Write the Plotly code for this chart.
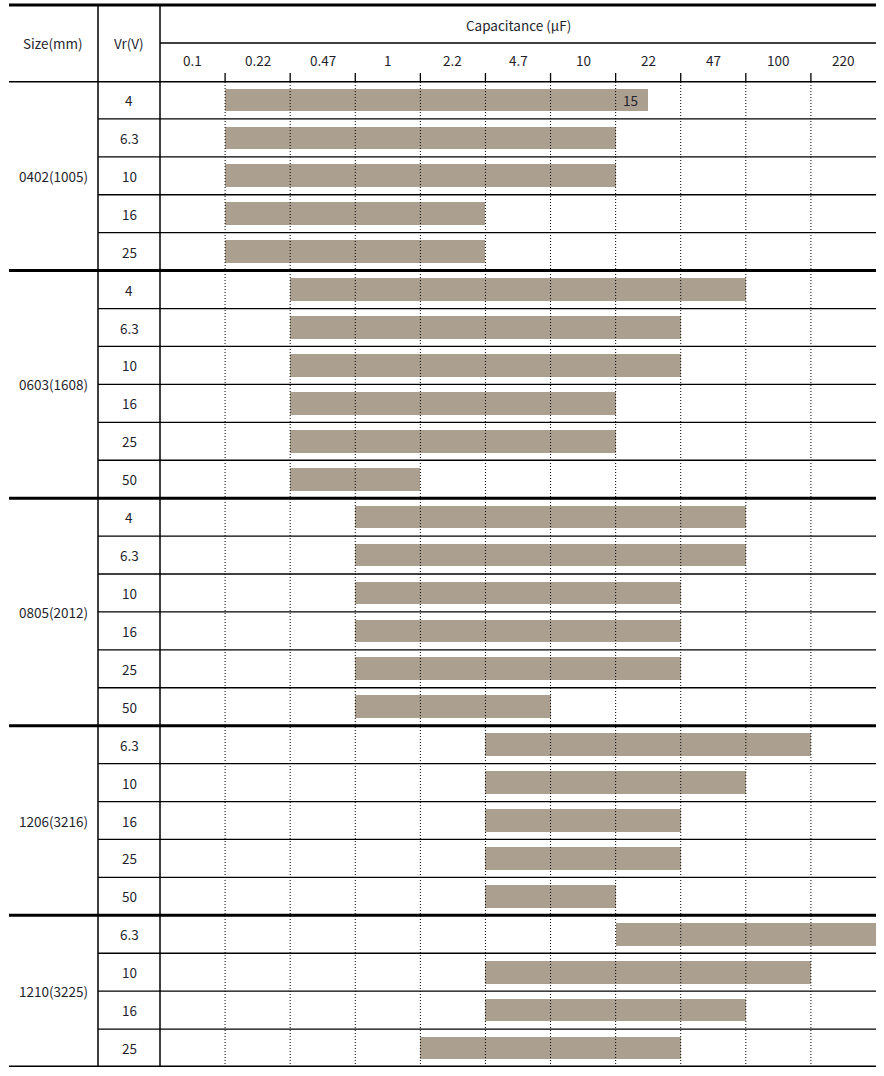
import plotly.graph_objects as go

# ---------------- data ----------------
cap_columns = ["0.1", "0.22", "0.47", "1", "2.2", "4.7", "10", "22", "47", "100", "220"]
cap_values = [0.1, 0.22, 0.47, 1, 2.2, 4.7, 10, 22, 47, 100, 220]

sizes = ["0402(1005)", "0603(1608)", "0805(2012)", "1206(3216)", "1210(3225)"]

voltages_0402 = ["4", "6.3", "10", "16", "25"]
voltages_0603 = ["4", "6.3", "10", "16", "25", "50"]
voltages_0805 = ["4", "6.3", "10", "16", "25", "50"]
voltages_1206 = ["6.3", "10", "16", "25", "50"]
voltages_1210 = ["6.3", "10", "16", "25"]

min_cap_0402 = [0.22, 0.22, 0.22, 0.22, 0.22]
max_cap_0402 = [15, 10, 10, 2.2, 2.2]
min_cap_0603 = [0.47, 0.47, 0.47, 0.47, 0.47, 0.47]
max_cap_0603 = [47, 22, 22, 10, 10, 1]
min_cap_0805 = [1, 1, 1, 1, 1, 1]
max_cap_0805 = [47, 47, 22, 22, 22, 4.7]
min_cap_1206 = [4.7, 4.7, 4.7, 4.7, 4.7]
max_cap_1206 = [100, 47, 22, 22, 10]
min_cap_1210 = [22, 4.7, 4.7, 2.2]
max_cap_1210 = [220, 100, 47, 22]

groups = [
    (sizes[0], voltages_0402, min_cap_0402, max_cap_0402),
    (sizes[1], voltages_0603, min_cap_0603, max_cap_0603),
    (sizes[2], voltages_0805, min_cap_0805, max_cap_0805),
    (sizes[3], voltages_1206, min_cap_1206, max_cap_1206),
    (sizes[4], voltages_1210, min_cap_1210, max_cap_1210),
]

# ---------------- helpers ----------------
def col_start(v):
    return cap_values.index(v)

def col_end(v):
    for i, c in enumerate(cap_values):
        if abs(c - v) < 1e-9:
            return i + 1
        if c > v:
            return i + 0.5
    return len(cap_values)

FONT = "Noto Sans CJK KR"
TXT = "#1f1f2e"
BAR = "#ab9f8f"

W, H = 884, 1076
L, R, T, B = 160, 8, 81, 9
PW, PH = W - L - R, H - T - B

def px_x(px):
    return (px - L) / PW

def px_y(py):
    return (H - B - py) / PH

rows_y, bases, lengths, texts = [], [], [], []
row_labels = []
group_bounds = [0]
row = 0
for name, volts, mins, maxs in groups:
    for v, mn, mx in zip(volts, mins, maxs):
        s, e = col_start(mn), col_end(mx)
        rows_y.append(row + 0.5)
        bases.append(s)
        lengths.append(e - s)
        texts.append("" if mx in cap_values else f"{mx:g}")
        row_labels.append(v)
        row += 1
    group_bounds.append(row)
n_rows = row

fig = go.Figure()
fig.add_trace(go.Bar(
    orientation="h", y=rows_y, x=lengths, base=bases, width=0.6,
    marker=dict(color=BAR, line=dict(width=0)), hoverinfo="skip",
))

shapes = []
# vertical dotted lines at column boundaries (above bars)
for k in range(1, len(cap_columns)):
    shapes.append(dict(type="line", xref="x", yref="paper", x0=k, x1=k, y0=0, y1=1,
                       line=dict(color="black", width=1, dash="1px,2px"), layer="above"))
# horizontal row lines
for r_ in range(n_rows + 1):
    thick = r_ in group_bounds
    shapes.append(dict(type="line", xref="paper", yref="y",
                       x0=px_x(9) if thick else px_x(98), x1=1, y0=r_, y1=r_,
                       line=dict(color="black", width=3 if thick else 1.3), layer="above"))
# header lines
shapes.append(dict(type="line", xref="paper", yref="paper", x0=px_x(9), x1=1,
                   y0=px_y(5), y1=px_y(5), line=dict(color="black", width=3)))
shapes.append(dict(type="line", xref="paper", yref="paper", x0=0, x1=1,
                   y0=px_y(43), y1=px_y(43), line=dict(color="black", width=1.3)))
for vx in (98, 160):
    shapes.append(dict(type="line", xref="paper", yref="paper", x0=px_x(vx), x1=px_x(vx),
                       y0=px_y(1067), y1=px_y(5), line=dict(color="black", width=1.5),
                       layer="above"))
# tick marks at column boundaries in header
for k in range(1, len(cap_columns)):
    shapes.append(dict(type="line", xref="x", yref="paper", x0=k, x1=k,
                       y0=px_y(81), y1=px_y(73), line=dict(color="black", width=1.3)))

annotations = []
fnt = dict(family=FONT, size=13.5, color=TXT)

def ann(text, x, y, xref, yref, **kw):
    d = dict(text=text, x=x, y=y, xref=xref, yref=yref, showarrow=False, font=fnt,
             xanchor="center", yanchor="middle")
    d.update(kw)
    annotations.append(d)

ann("Size(mm)", px_x(53), px_y(43), "paper", "paper")
ann("Vr(V)", px_x(129), px_y(43), "paper", "paper")
ann("Capacitance (µF)", 0.5, px_y(25), "paper", "paper")
for i, lab in enumerate(cap_columns):
    ann(lab, i + 0.5, px_y(60), "x", "paper")
for y_, lab in zip(rows_y, row_labels):
    ann(lab, px_x(129), y_, "paper", "y")
for gi, (name, *_rest) in enumerate(groups):
    yc = (group_bounds[gi] + group_bounds[gi + 1]) / 2
    ann(name, px_x(53), yc, "paper", "y")
for y_, b_, l_, t_ in zip(rows_y, bases, lengths, texts):
    if t_:
        ann(t_, b_ + l_, y_, "x", "y", xanchor="right", xshift=-8)

fig.update_layout(
    width=W, height=H, margin=dict(l=L, r=R, t=T, b=B),
    paper_bgcolor="white", plot_bgcolor="white", showlegend=False,
    shapes=shapes, annotations=annotations, bargap=0,
    xaxis=dict(range=[0, len(cap_columns)], showgrid=False, zeroline=False,
               showticklabels=False, ticks="", fixedrange=True),
    yaxis=dict(range=[n_rows, 0], showgrid=False, zeroline=False,
               showticklabels=False, ticks="", fixedrange=True),
)

fig.write_html("out.html", config={"displayModeBar": False},
               post_script="document.body.style.margin='0';document.body.style.overflow='hidden';")
